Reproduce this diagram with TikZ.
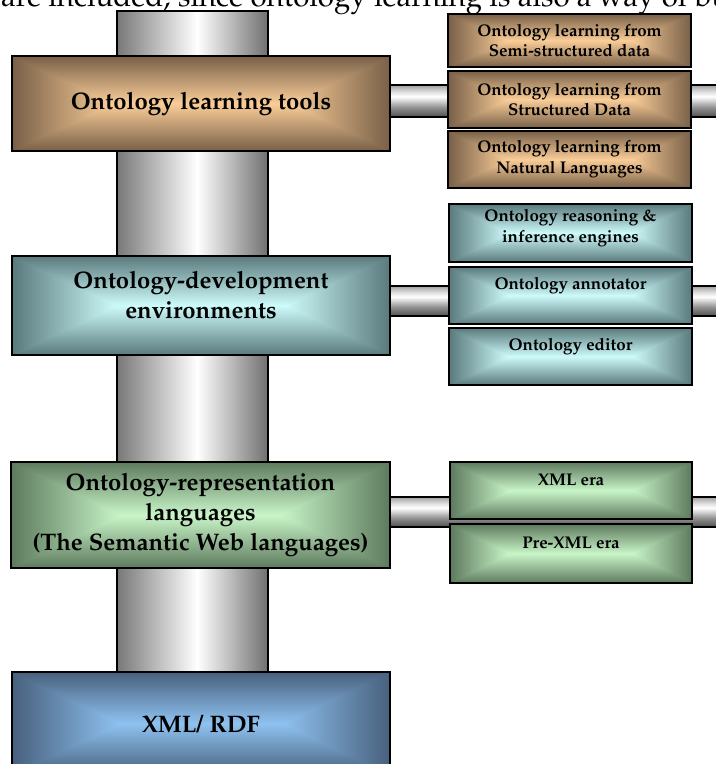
\documentclass[tikz,border=0pt]{standalone}
\usepackage[T1]{fontenc}
\renewcommand{\rmdefault}{ppl}
\usetikzlibrary{calc}
\definecolor{brD}{RGB}{120,96,72}
\definecolor{brL}{RGB}{250,205,152}
\definecolor{tlD}{RGB}{90,122,125}
\definecolor{tlL}{RGB}{205,250,250}
\definecolor{gnD}{RGB}{94,122,94}
\definecolor{gnL}{RGB}{200,245,200}
\definecolor{blD}{RGB}{72,96,125}
\definecolor{blL}{RGB}{142,194,240}
\definecolor{pilA}{RGB}{120,120,120}
\definecolor{pilB}{RGB}{112,112,112}
\definecolor{barA}{RGB}{80,80,80}
\definecolor{barB}{RGB}{145,145,145}
\definecolor{barC}{RGB}{225,225,225}
\definecolor{barD}{RGB}{160,160,160}
% TikZ maps the 25bp--75bp part of a shading onto the path
\pgfdeclarehorizontalshading{pillarsh}{100bp}{color(0bp)=(pilA);color(25bp)=(pilA);color(51.5bp)=(white);color(75bp)=(pilB);color(100bp)=(pilB)}
\pgfdeclareverticalshading{barsh}{100bp}{color(0bp)=(barA);color(25bp)=(barA);color(40bp)=(barB);color(57bp)=(white);color(64bp)=(barC);color(75bp)=(barD);color(100bp)=(barD)}
% rectangular "from centre" gradient, drawn inside a node's path picture
% #1 dark edge colour, #2 light centre colour, #3 inset as fraction of width
\newcommand{\rectgrad}[3]{%
  \coordinate (rgSW) at (path picture bounding box.south west);
  \coordinate (rgSE) at (path picture bounding box.south east);
  \coordinate (rgNW) at (path picture bounding box.north west);
  \coordinate (rgNE) at (path picture bounding box.north east);
  \coordinate (rgW) at (path picture bounding box.west);
  \coordinate (rgE) at (path picture bounding box.east);
  \fill[#2] (rgSW) rectangle (rgNE);
  \shade[left color=#1,right color=#2] (rgSW) rectangle ($(rgNW)!#3!(rgNE)$);
  \shade[left color=#2,right color=#1] ($(rgSW)!1-#3!(rgSE)$) rectangle (rgNE);
  \shade[top color=#1,bottom color=#2] (rgNW) -- (rgNE) -- ($(rgW)!1-#3!(rgE)$) -- ($(rgW)!#3!(rgE)$) -- cycle;
  \shade[top color=#2,bottom color=#1] (rgSW) -- (rgSE) -- ($(rgW)!1-#3!(rgE)$) -- ($(rgW)!#3!(rgE)$) -- cycle;
}
\tikzset{
  rgrad/.style n args={3}{path picture={\rectgrad{#1}{#2}{#3}}},
  boxbase/.style={draw=black,line width=1.3bp,inner sep=0pt,align=center,text=black},
  mainbox/.style={boxbase,minimum width=378bp,font=\fontsize{24}{30}\selectfont\bfseries},
  sidebox/.style={boxbase,minimum width=243bp,minimum height=57bp,font=\fontsize{17}{21}\selectfont\bfseries},
  brownfill/.style={rgrad={brD}{brL}{0.265}},
  tealfill/.style={rgrad={tlD}{tlL}{0.275}},
  greenfill/.style={rgrad={gnD}{gnL}{0.29}},
  bluefill/.style={rgrad={blD}{blL}{0.285}},
  sbrownfill/.style={rgrad={brD}{brL}{0.245}},
  stealfill/.style={rgrad={tlD}{tlL}{0.245}},
  sgreenfill/.style={rgrad={gnD}{gnL}{0.245}},
  pillar/.style={shading=pillarsh,draw=black,line width=1.3bp},
  barline/.style={shading=barsh,draw=black,line width=1.1bp},
}
\begin{document}
\begin{tikzpicture}[x=1bp,y=-1bp]
\useasboundingbox (0,0) rectangle (716,764);
\clip (0,0) rectangle (716,764);
% cropped text line at the top
\node[anchor=base west,inner sep=0pt,font=\fontsize{29.5}{32}\selectfont] (intro) at (1,7)
  {are included, since ontology learning is also a way of building};
% anchors for pillar and bar ends
\coordinate (ptop) at (117,11);
\coordinate (pbot) at (268,672);
\coordinate (e1) at (740,101);
\coordinate (e2) at (740,301);
\coordinate (e3) at (740,512);
\shade[pillar] (ptop) rectangle (pbot);
% main boxes
\node[mainbox,minimum height=103bp,bluefill] (m4) at (201,723.5) {XML/ RDF};
\node[mainbox,minimum height=95bp,brownfill] (m1) at (201,103.5) {Ontology learning tools};
\node[mainbox,minimum height=99bp,tealfill,text depth=22bp] (m2) at (201,305.5) {Ontology-development\\environments};
\node[mainbox,minimum width=379bp,minimum height=106bp,greenfill] (m3) at (200.5,515) {Ontology-representation\\languages\\(The Semantic Web languages)};
% horizontal bars
\shade[barline] ($(m1.east |- e1)+(0,-16)$) rectangle ($(e1)+(0,16)$);
\shade[barline] ($(m2.east |- e2)+(0,-15)$) rectangle ($(e2)+(0,15)$);
\shade[barline] ($(m3.east |- e3)+(0,-15)$) rectangle ($(e3)+(0,15)$);
% side boxes: learning
\node[sidebox,minimum height=53bp,sbrownfill] (s11) at (569.5,40.5) {Ontology learning from\\Semi-structured data};
\node[sidebox,sbrownfill] (s12) at (569.5,99.5) {Ontology learning from\\Structured Data};
\node[sidebox,sbrownfill] (s13) at (569.5,159.5) {Ontology learning from\\Natural Languages};
% side boxes: development
\node[sidebox,minimum height=58bp,stealfill,text depth=14bp] (s21) at (570.5,233) {Ontology reasoning \&\\inference engines};
\node[sidebox,stealfill,text depth=24bp] (s22) at (570.5,295.5) {Ontology annotator};
\node[sidebox,stealfill,text depth=24bp] (s23) at (570.5,356.5) {Ontology editor};
% side boxes: representation
\node[sidebox,minimum width=242bp,sgreenfill,text depth=21bp] (s31) at (571,490.5) {XML era};
\node[sidebox,minimum width=242bp,minimum height=59bp,sgreenfill,text depth=21bp] (s32) at (571,553.5) {Pre-XML era};
\end{tikzpicture}
\end{document}
